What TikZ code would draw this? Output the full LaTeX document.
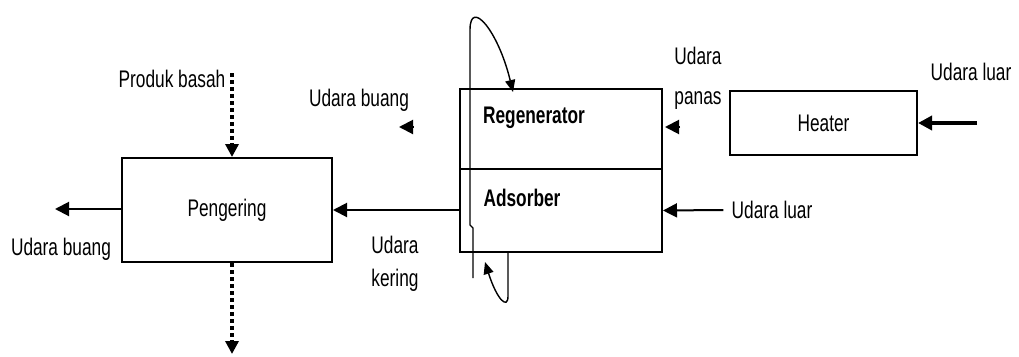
\documentclass[tikz,border=0pt]{standalone}
\usepackage{fontspec}
\setmainfont{Liberation Sans}[FakeStretch=0.72]
\usetikzlibrary{arrows.meta}

\begin{document}
\begin{tikzpicture}[x=1pt, y=-1pt, font=\fontsize{24}{28}\selectfont, >={Triangle[length=14pt, width=14pt]},
    unit/.style={draw, line width=2pt, inner sep=0pt},
    flow/.style={->, line width=2pt},
    wet/.style={->, line width=4pt, dash pattern=on 4pt off 3pt, >={Triangle[length=13pt, width=13pt]}},
    wheel/.style={->, line width=1.4pt, >={Triangle[length=12pt, width=10pt]}},
    lbl/.style={inner sep=0pt, align=center}]
  \useasboundingbox (0,0) rectangle (1019,356);
  \node[unit, minimum width=210pt, minimum height=104pt] (peng) at (227,210) {Pengering};
  \node[unit, minimum width=202pt, minimum height=80pt] (regen) at (561,129) {};
  \node[unit, minimum width=202pt, minimum height=83pt] (adsorb) at (561,210.5) {};
  \node[unit, minimum width=187pt, minimum height=64pt] (heater) at (823.5,123) {Heater};
  \node[lbl, font=\fontsize{24}{28}\selectfont\bfseries] (rgtxt) at (534,118) {Regenerator};
  \node[lbl, font=\fontsize{24}{28}\selectfont\bfseries] (adtxt) at (522,198) {Adsorber};
  \node[lbl] (basah) at (172,79) {Produk basah};
  \node[lbl] (buang1) at (359,100) {Udara buang};
  \node[lbl] (buang2) at (61,249) {Udara buang};
  \node[lbl, font=\fontsize{24}{33}\selectfont] (kering) at (395,264) {Udara\\kering};
  \node[lbl, font=\fontsize{24}{40}\selectfont] (panas) at (698,78) {Udara\\panas};
  \node[lbl] (luar1) at (971,72) {Udara luar};
  \node[lbl] (luar2) at (772,210) {Udara luar};
  \coordinate (pin) at (232,73);
  \coordinate (pout) at (232,354);
  \coordinate (bout) at (55,209);
  \coordinate (hin) at (977,123);
  \coordinate (ub) at (413,127);
  \coordinate (ubt) at (399,127);
  \coordinate (ph) at (680,127);
  \coordinate (pht) at (665,127);
  \coordinate (wa) at (473,278);
  \coordinate (wb) at (473,228);
  \coordinate (wc) at (470,225);
  \coordinate (wd) at (470,30);
  \coordinate (we) at (513,92);
  \coordinate (wf) at (508,296);
  \coordinate (wg) at (485,262);
  \draw[wet] (pin) -- (pin |- peng.north);
  \draw[wet] (pin |- peng.south) -- (pout);
  \draw[flow] (peng.west |- bout) -- (bout);
  \draw[flow] (adsorb.west |- peng.east) -- (peng.east);
  \draw[flow] (ub) -- (ubt);
  \draw[flow] (ph) -- (pht);
  \draw[flow] (luar2.west) ++(-8,0) -- (adsorb.east);
  \draw[flow, line width=4pt] (hin) -- (heater.east);
  \draw[wheel] (wa) -- (wb) -- (wc) -- (wd) .. controls (470,-2) and (498,30) .. (we);
  \draw[wheel] (adsorb.south -| wf) -- (wf) .. controls (508,310) and (497,300) .. (wg);
\end{tikzpicture}
\end{document}
